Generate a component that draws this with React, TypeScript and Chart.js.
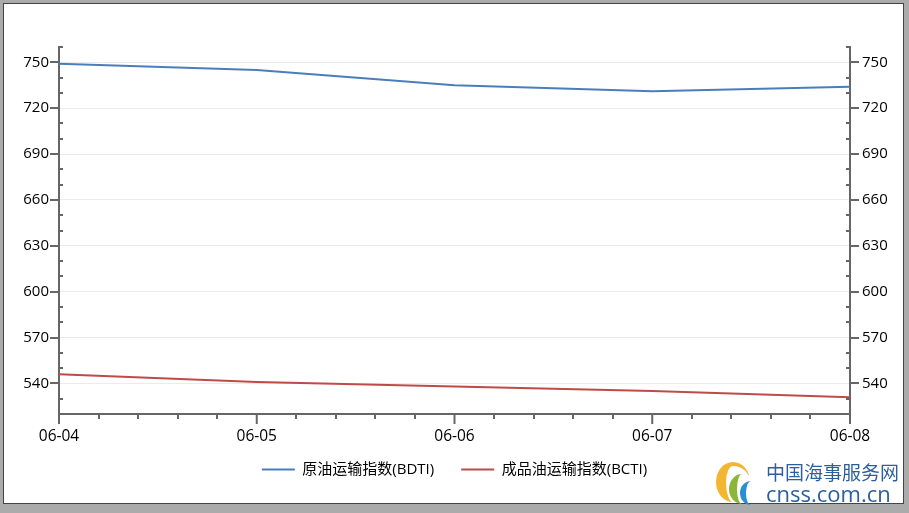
import React, { useEffect, useRef } from 'react';
import { Chart, registerables } from 'chart.js';

Chart.register(...registerables);

const categories = ['06-04', '06-05', '06-06', '06-07', '06-08'];
const bdtiValues = [749, 745, 735, 731, 734];
const bctiValues = [546, 541, 538, 535, 531];
const yLabelValues = [540, 570, 600, 630, 660, 690, 720, 750];
const yMin = 520;
const yMax = 760;
const yMinorStep = 10;
const xMinorDivisions = 5;
const seriesNames = ['原油运输指数(BDTI)', '成品油运输指数(BCTI)'];
const seriesColors = ['#4a7ebb', '#be4b48'];

const FONT = '"Open Sans", "Noto Sans CJK SC", sans-serif';
const AXIS_COLOR = '#666666';
const LEGEND_SHIFT = 16;

const tickPlugin = {
  id: 'customTicks',
  afterLayout(chart: any) {
    const lg = chart.legend;
    if (lg) {
      lg.top -= LEGEND_SHIFT;
      lg.bottom -= LEGEND_SHIFT;
    }
  },
  afterDraw(chart: any) {
    const ctx = chart.ctx;
    const { left, right, bottom } = chart.chartArea;
    const y = chart.scales.y;
    const x = chart.scales.x;
    ctx.save();
    ctx.strokeStyle = AXIS_COLOR;
    ctx.lineWidth = 2;
    for (let v = yMin; v <= yMax; v += yMinorStep) {
      const py = Math.round(y.getPixelForValue(v));
      const major = yLabelValues.includes(v);
      ctx.beginPath();
      if (major) {
        ctx.moveTo(left - 9, py);
        ctx.lineTo(left, py);
        ctx.moveTo(right, py);
        ctx.lineTo(right + 9, py);
      } else {
        ctx.moveTo(left, py);
        ctx.lineTo(left + 4, py);
        ctx.moveTo(right - 4, py);
        ctx.lineTo(right, py);
      }
      ctx.stroke();
    }
    for (let i = 0; i < categories.length; i++) {
      const px = x.getPixelForTick(i);
      ctx.beginPath();
      ctx.moveTo(px, bottom);
      ctx.lineTo(px, bottom + 10);
      ctx.stroke();
      if (i < categories.length - 1) {
        const nx = x.getPixelForTick(i + 1);
        for (let k = 1; k < xMinorDivisions; k++) {
          const mx = Math.round(px + ((nx - px) * k) / xMinorDivisions);
          ctx.beginPath();
          ctx.moveTo(mx, bottom);
          ctx.lineTo(mx, bottom + 5);
          ctx.stroke();
        }
      }
    }
    ctx.restore();
  },
};

function yScale(position: 'left' | 'right', showGrid: boolean) {
  return {
    type: 'linear',
    position,
    display: true,
    min: yMin,
    max: yMax,
    afterBuildTicks: (s: any) => {
      s.ticks = yLabelValues.map((v) => ({ value: v }));
    },
    ticks: {
      color: '#000',
      font: { family: FONT, size: 15 },
      padding: position === 'left' ? 10 : 12,
    },
    grid: {
      display: showGrid,
      color: '#ebebeb',
      lineWidth: 1,
      drawTicks: false,
    },
    border: { display: true, color: AXIS_COLOR, width: 2 },
    afterFit: (s: any) => {
      s.width = 59;
    },
  };
}

export default function App() {
  const canvasRef = useRef<HTMLCanvasElement | null>(null);

  useEffect(() => {
    if (!canvasRef.current) return;
    const chart = new Chart(canvasRef.current, {
      type: 'line',
      data: {
        labels: categories,
        datasets: [
          {
            label: seriesNames[0],
            data: bdtiValues,
            borderColor: seriesColors[0],
            backgroundColor: seriesColors[0],
            borderWidth: 2,
            pointRadius: 0,
            tension: 0,
            yAxisID: 'y',
          },
          {
            label: seriesNames[1],
            data: bctiValues,
            borderColor: seriesColors[1],
            backgroundColor: seriesColors[1],
            borderWidth: 2,
            pointRadius: 0,
            tension: 0,
            yAxisID: 'y',
          },
        ],
      },
      options: {
        responsive: false,
        animation: false,
        devicePixelRatio: 1,
        layout: { padding: { top: 47, left: 0, right: 0, bottom: 10 } },
        scales: {
          x: {
            type: 'category',
            offset: false,
            grid: { display: false, drawTicks: false },
            border: { display: true, color: AXIS_COLOR, width: 2 },
            ticks: {
              color: '#000',
              font: { family: FONT, size: 15.5 },
              padding: 13,
              maxRotation: 0,
              autoSkip: false,
            },
            afterFit: (s: any) => {
              s.height = 37;
            },
          },
          y: yScale('left', true) as any,
          y1: yScale('right', false) as any,
        },
        plugins: {
          legend: {
            position: 'bottom',
            labels: {
              color: '#000',
              font: { family: FONT, size: 15 },
              boxWidth: 33,
              boxHeight: 2,
              padding: 27,
              generateLabels: (c: any) =>
                Chart.defaults.plugins.legend.labels
                  .generateLabels(c)
                  .map((l: any) => ({ ...l, lineWidth: 0 })),
            },
          },
          tooltip: { enabled: false },
        },
      },
      plugins: [tickPlugin],
    } as any);
    return () => chart.destroy();
  }, []);

  return (
    <div
      style={{
        position: 'fixed',
        left: 0,
        top: 0,
        width: 909,
        height: 513,
        background: '#ababab',
        overflow: 'hidden',
      }}
    >
      <div
        style={{
          position: 'absolute',
          left: 3,
          top: 3,
          width: 899,
          height: 499,
          border: '1px solid #444',
          background: '#ffffff',
        }}
      />
      <canvas
        ref={canvasRef}
        width={909}
        height={513}
        style={{ position: 'absolute', left: 0, top: 0, width: 909, height: 513 }}
      />
      <div
        style={{
          position: 'absolute',
          left: 716,
          top: 462,
          width: 48,
          height: 44,
        }}
      >
        <div
          style={{
            position: 'absolute',
            left: 0,
            top: 0,
            width: 34,
            height: 40,
            borderRadius: '50%',
            borderLeft: '10px solid #f2b630',
            borderTop: '4px solid #f2b630',
            boxSizing: 'border-box',
          }}
        />
        <div
          style={{
            position: 'absolute',
            left: 13,
            top: 12,
            width: 26,
            height: 30,
            borderRadius: '50%',
            borderLeft: '8px solid #8db53c',
            boxSizing: 'border-box',
          }}
        />
        <div
          style={{
            position: 'absolute',
            left: 24,
            top: 19,
            width: 22,
            height: 24,
            borderRadius: '50%',
            borderLeft: '6px solid #2a8fd0',
            boxSizing: 'border-box',
          }}
        />
      </div>
      <div
        style={{
          position: 'absolute',
          left: 766,
          top: 461,
          fontFamily: '"Noto Sans CJK SC", sans-serif',
          fontSize: 19,
          lineHeight: '22px',
          color: '#2c5f9e',
          whiteSpace: 'nowrap',
        }}
      >
        中国海事服务网
      </div>
      <div
        style={{
          position: 'absolute',
          left: 766,
          top: 481,
          fontFamily: '"Open Sans", sans-serif',
          fontSize: 22,
          lineHeight: '24px',
          color: '#2c5f9e',
          whiteSpace: 'nowrap',
        }}
      >
        cnss.com.cn
      </div>
    </div>
  );
}
